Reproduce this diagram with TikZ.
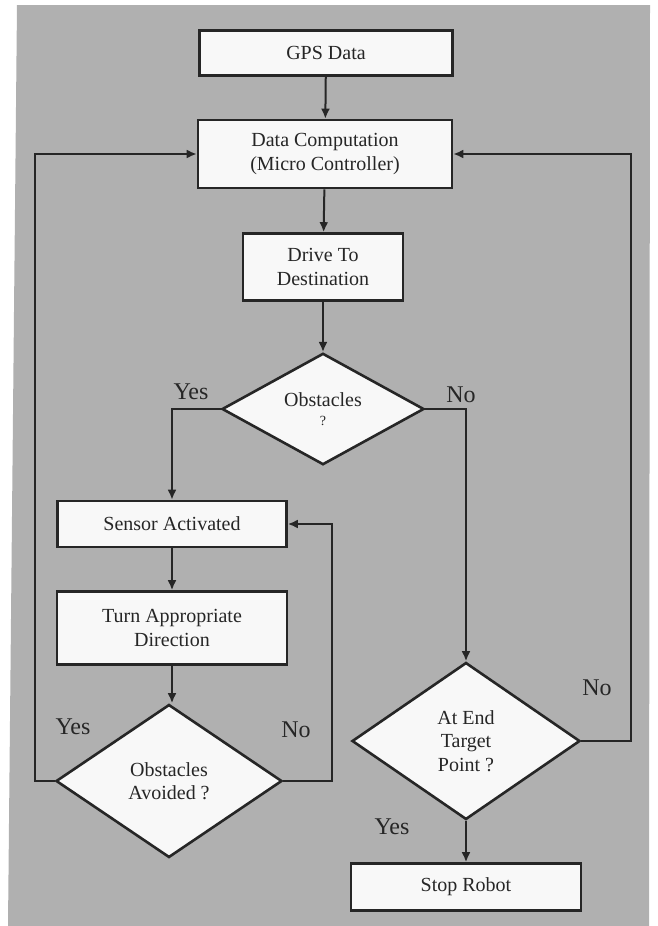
\documentclass[tikz,border=0pt]{standalone}
\usepackage{fontspec}
\setmainfont{Liberation Serif}
\usetikzlibrary{arrows.meta, shapes.geometric, positioning, calc}

\definecolor{scangray}{RGB}{176,176,176}
\definecolor{inkgray}{RGB}{38,38,38}
\definecolor{paper}{RGB}{248,248,248}

\begin{document}
\begin{tikzpicture}[x=0.5pt, y=-0.5pt,
    box/.style={rectangle, draw=inkgray, line width=1.3pt, fill=paper, text=inkgray, font=\fontsize{10}{11.8}\selectfont, align=center, inner sep=0pt},
    decision/.style={diamond, draw=inkgray, line width=1.3pt, fill=paper, text=inkgray, font=\fontsize{10}{11.8}\selectfont, align=center, inner sep=0pt},
    line/.style={draw=inkgray, line width=1pt},
    arrow/.style={line, -{Latex[length=5pt, width=4.5pt]}},
    answer/.style={font=\fontsize{12}{14}\selectfont, text=inkgray}]

      % scanned page
      \useasboundingbox (0,0) rectangle (658,926);
      \fill[white] (0,0) rectangle (658,926);
      \fill[scangray] (17,5) -- (650,5) -- (649,926) -- (8,926) -- cycle;

      % main column
      \node[box, minimum width=126.5pt, minimum height=22.5pt] (gps) at (326,53) {GPS Data};
      \node[box, minimum width=127pt, minimum height=34pt] (comp) at (325,154) {Data Computation\\(Micro Controller)};
      \node[box, minimum width=80pt, minimum height=33.5pt] (drive) at (323,267) {Drive To\\Destination};
      \node[decision, minimum width=101pt, minimum height=55pt] (obst) at (323,409) {Obstacles\\[-2pt]{\fontsize{7}{8}\selectfont ?}};

      % avoidance branch
      \node[box, minimum width=114.5pt, minimum height=23pt] (sensor) at (172,524) {Sensor Activated};
      \node[box, minimum width=115pt, minimum height=36.5pt] (turn) at (172,628) {Turn Appropriate\\Direction};
      \node[decision, minimum width=113pt, minimum height=76.5pt] (avoid) at (169,781) {Obstacles\\Avoided ?};

      % target branch
      \node[decision, minimum width=114pt, minimum height=78.5pt] (endpt) at (466,741) {At End\\Target\\Point ?};
      \node[box, minimum width=115pt, minimum height=23.5pt] (stop) at (466,887) {Stop Robot};

      \draw[arrow] (gps) -- (comp);
      \draw[arrow] (comp) -- (drive);
      \draw[arrow] (drive) -- (obst);
      \draw[arrow] (obst.west) -| (sensor.north);
      \draw[arrow] (obst.east) -| (endpt.north);
      \draw[arrow] (sensor) -- (turn);
      \draw[arrow] (turn.south) -- (turn.south |- avoid.north);
      \draw[arrow] (avoid.west) -- ++(-20,0) |- (comp.west);
      \draw[arrow] (avoid.east) -- ++(49,0) |- (sensor.east);
      \draw[arrow] (endpt.east) -- ++(50,0) |- (comp.east);
      \draw[arrow] (endpt) -- (stop);

      \node[answer] (obstyes) at (191,392) {Yes};
      \node[answer] (obstno) at (461,395) {No};
      \node[answer] (avoidyes) at (73,727) {Yes};
      \node[answer] (avoidno) at (296,730) {No};
      \node[answer] (endno) at (597,688) {No};
      \node[answer] (endyes) at (392,827) {Yes};
    \end{tikzpicture}
\end{document}
